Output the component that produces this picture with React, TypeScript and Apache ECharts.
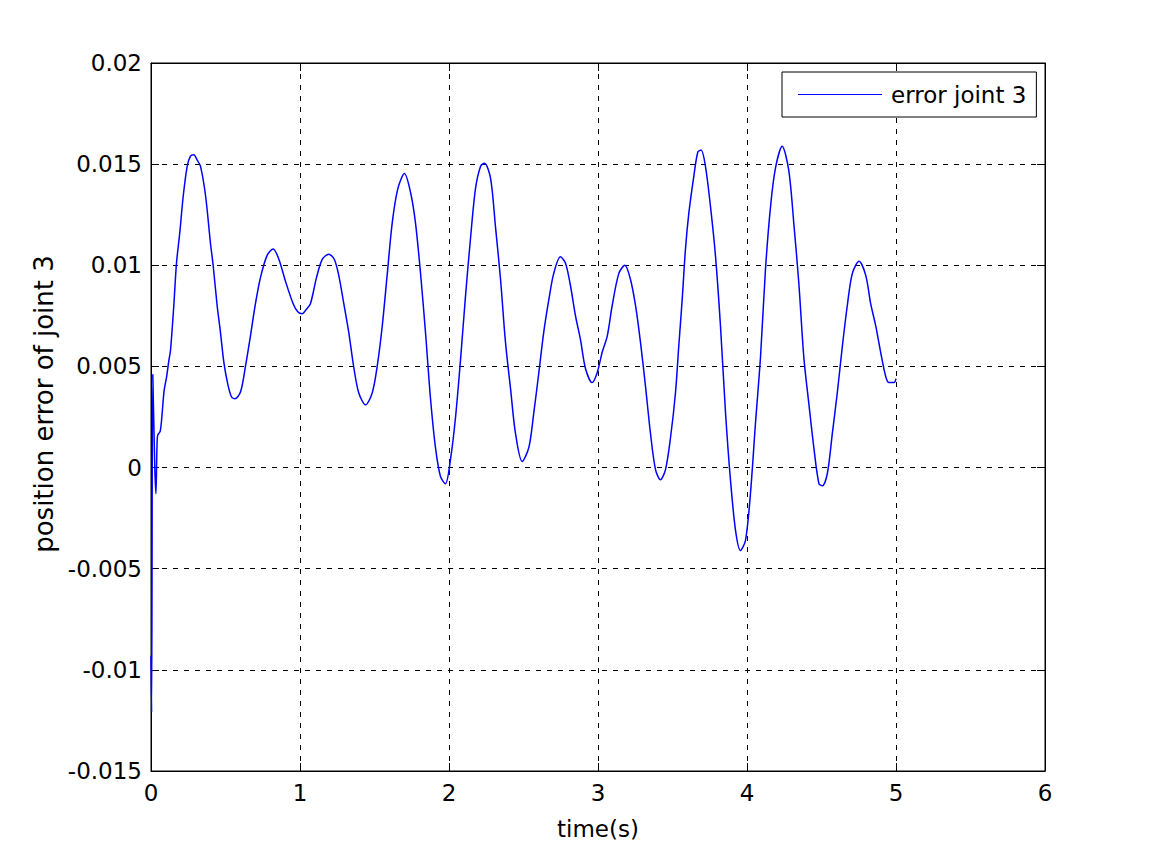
import React, { useEffect, useRef } from "react";
import * as echarts from "echarts";

const timeValues: number[] = [
  0, 0.004, 0.012, 0.025, 0.033, 0.04, 0.045, 0.062, 0.075, 0.088, 0.105, 0.12, 0.131, 0.153, 0.171, 0.193,
  0.216, 0.243, 0.265, 0.287, 0.31, 0.332, 0.366, 0.399, 0.417, 0.444, 0.466, 0.489, 0.516, 0.54, 0.563,
  0.601, 0.634, 0.663, 0.701, 0.735, 0.78, 0.82, 0.858, 0.903, 0.954, 0.985, 1.014, 1.04, 1.07, 1.111,
  1.15, 1.193, 1.23, 1.26, 1.294, 1.327, 1.36, 1.394, 1.44, 1.485, 1.518, 1.552, 1.586, 1.619, 1.657,
  1.701, 1.742, 1.775, 1.809, 1.842, 1.876, 1.909, 1.943, 1.976, 2.01, 2.044, 2.077, 2.111, 2.144, 2.178,
  2.212, 2.238, 2.279, 2.312, 2.346, 2.379, 2.413, 2.446, 2.491, 2.536, 2.569, 2.603, 2.636, 2.67, 2.703,
  2.748, 2.782, 2.815, 2.849, 2.883, 2.916, 2.961, 2.995, 3.028, 3.062, 3.095, 3.14, 3.18, 3.218, 3.252,
  3.285, 3.319, 3.352, 3.386, 3.419, 3.453, 3.487, 3.52, 3.542, 3.565, 3.587, 3.61, 3.643, 3.67, 3.692,
  3.721, 3.755, 3.788, 3.822, 3.856, 3.889, 3.923, 3.956, 3.99, 4.023, 4.057, 4.091, 4.124, 4.158, 4.191,
  4.236, 4.28, 4.315, 4.348, 4.382, 4.416, 4.45, 4.483, 4.506, 4.539, 4.573, 4.606, 4.64, 4.673, 4.707,
  4.752, 4.797, 4.83, 4.864, 4.897, 4.931, 4.953, 4.987, 5.0,
];

const errorJoint3: number[] = [
  -0.0093, -0.0121, 0.0046, 0.0001, -0.0013, 0.001, 0.0016, 0.0018, 0.0027, 0.0038, 0.0045, 0.0053, 0.0058,
  0.008, 0.0101, 0.0116, 0.0134, 0.0149, 0.0154, 0.01546, 0.0152, 0.0149, 0.01345, 0.0111, 0.01, 0.008,
  0.0067, 0.0052, 0.0041, 0.0035, 0.0034, 0.00375, 0.005, 0.0063, 0.0081, 0.0094, 0.0105, 0.0108, 0.0103,
  0.0092, 0.0081, 0.0077, 0.0076, 0.0078, 0.0081, 0.0094, 0.0103, 0.01054, 0.0103, 0.0095, 0.0081, 0.0067,
  0.005, 0.0037, 0.0031, 0.0037, 0.005, 0.007, 0.0096, 0.0121, 0.0138, 0.01454, 0.0136, 0.0121, 0.0096,
  0.0067, 0.0034, 0.001, -0.00045, -0.0008, 0.0004, 0.0025, 0.0053, 0.0085, 0.0113, 0.0138, 0.0149,
  0.01505, 0.0143, 0.0119, 0.0093, 0.0062, 0.0039, 0.0017, 0.0003, 0.001, 0.0027, 0.0047, 0.0067, 0.0083,
  0.0096, 0.01042, 0.0101, 0.009, 0.0075, 0.0063, 0.0049, 0.0042, 0.0047, 0.0057, 0.0065, 0.008, 0.0096,
  0.01, 0.0093, 0.008, 0.0062, 0.004, 0.0017, -0.0001, -0.0006, -0.0001, 0.0015, 0.0037, 0.006, 0.0083,
  0.0108, 0.0126, 0.0144, 0.0156, 0.0157, 0.0149, 0.0129, 0.0105, 0.007, 0.0027, -0.0006, -0.0031, -0.0041,
  -0.0036, -0.0013, 0.0022, 0.0055, 0.0098, 0.0129, 0.0148, 0.01588, 0.0147, 0.012, 0.0091, 0.0054, 0.0031,
  0.0009, -0.0008, -0.0009, -0.0003, 0.0017, 0.0037, 0.006, 0.008, 0.0096, 0.0102, 0.0095, 0.0081, 0.007,
  0.0057, 0.0045, 0.0042, 0.0042, 0.0044,
];

const seriesName = "error joint 3";
const xAxisTitle = "time(s)";
const yAxisTitle = "position error of joint 3";

const FONT = "DejaVu Sans";

export default function App() {
  const ref = useRef<HTMLDivElement>(null);

  useEffect(() => {
    if (!ref.current) return;
    const chart = echarts.init(ref.current, undefined, { renderer: "svg" });
    const data = timeValues.map((t, i) => [t, errorJoint3[i]]);
    const fmt = (v: number) => String(Number(v.toFixed(3)));
    const splitLine = { show: true, lineStyle: { color: "#000", type: [5, 6] as any, width: 1 } };

    chart.setOption({
      animation: false,
      backgroundColor: "#fff",
      textStyle: { fontFamily: FONT },
      grid: {
        left: 151,
        top: 63,
        width: 894,
        height: 708,
        show: true,
        borderColor: "#000",
        borderWidth: 1,
        backgroundColor: "transparent",
      },
      legend: {
        show: true,
        left: 782,
        top: 72,
        orient: "vertical",
        padding: [11, 10, 11, 16],
        itemWidth: 84,
        itemHeight: 14,
        borderColor: "#000",
        borderWidth: 1,
        backgroundColor: "#fff",
        borderRadius: 0,
        textStyle: { fontFamily: FONT, fontSize: 23, color: "#000", padding: [0, 0, 0, 4] },
        data: [{ name: seriesName, icon: "path://M0,0 L84,0 L84,1.2 L0,1.2 Z" }],
      },
      xAxis: [
        {
          type: "value",
          min: 0,
          max: 6,
          interval: 1,
          position: "bottom",
          name: xAxisTitle,
          nameLocation: "middle",
          nameGap: 46,
          nameTextStyle: { fontFamily: FONT, fontSize: 23, color: "#000" },
          axisLine: { show: true, onZero: false, lineStyle: { color: "#000", width: 1 } },
          axisTick: { show: true, inside: true, length: 8, lineStyle: { color: "#000" } },
          axisLabel: { show: true, fontFamily: FONT, fontSize: 23, color: "#000", margin: 10, formatter: fmt },
          splitLine,
        },
        {
          type: "value",
          min: 0,
          max: 6,
          interval: 1,
          position: "top",
          axisLine: { show: true, onZero: false, lineStyle: { color: "#000", width: 1 } },
          axisTick: { show: true, inside: true, length: 8, lineStyle: { color: "#000" } },
          axisLabel: { show: false },
          splitLine: { show: false },
        },
      ],
      yAxis: [
        {
          type: "value",
          min: -0.015,
          max: 0.02,
          interval: 0.005,
          position: "left",
          name: yAxisTitle,
          nameLocation: "middle",
          nameRotate: 90,
          nameGap: 94,
          nameTextStyle: { fontFamily: FONT, fontSize: 26, color: "#000", padding: [0, 0, 0, 26] },
          axisLine: { show: true, onZero: false, lineStyle: { color: "#000", width: 1 } },
          axisTick: { show: true, inside: true, length: 8, lineStyle: { color: "#000" } },
          axisLabel: { show: true, fontFamily: FONT, fontSize: 23, color: "#000", margin: 9, formatter: fmt },
          splitLine,
        },
        {
          type: "value",
          min: -0.015,
          max: 0.02,
          interval: 0.005,
          position: "right",
          axisLine: { show: true, onZero: false, lineStyle: { color: "#000", width: 1 } },
          axisTick: { show: true, inside: true, length: 8, lineStyle: { color: "#000" } },
          axisLabel: { show: false },
          splitLine: { show: false },
        },
      ],
      series: [
        {
          name: seriesName,
          type: "line",
          xAxisIndex: 0,
          yAxisIndex: 0,
          data,
          showSymbol: false,
          symbol: "none",
          smooth: 0.3,
          color: "#0000ff",
          lineStyle: { color: "#0000ff", width: 1.5 },
        },
      ],
    });
    return () => chart.dispose();
  }, []);

  return (
    <div
      ref={ref}
      style={{ position: "absolute", left: 0, top: 0, width: 1154, height: 866, background: "#fff" }}
    />
  );
}
